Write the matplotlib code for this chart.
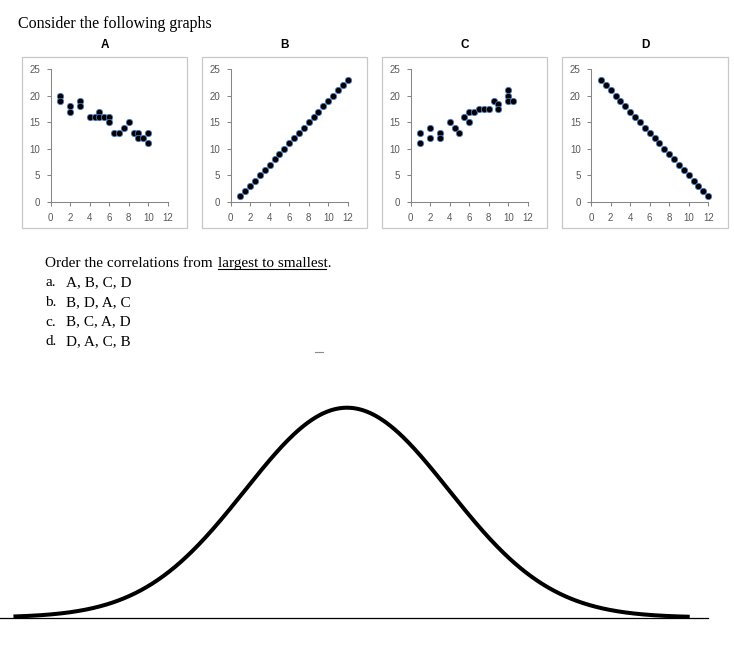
import numpy as np
import matplotlib
matplotlib.use("Agg")
import matplotlib.pyplot as plt
from matplotlib.patches import Rectangle
from matplotlib.lines import Line2D

# scatter data
a_x = [1, 1, 2, 2, 3, 3, 4, 4.5, 5, 5, 5.5, 6, 6, 6.5, 7, 7.5, 8, 8.5, 9, 9, 9.5, 10, 10]
a_y = [20, 19, 18, 17, 19, 18, 16, 16, 17, 16, 16, 16, 15, 13, 13, 14, 15, 13, 13, 12, 12, 13, 11]

b_x = [1, 1.5, 2, 2.5, 3, 3.5, 4, 4.5, 5, 5.5, 6, 6.5, 7, 7.5, 8, 8.5, 9, 9.5, 10, 10.5, 11, 11.5, 12]
b_y = [1, 2, 3, 4, 5, 6, 7, 8, 9, 10, 11, 12, 13, 14, 15, 16, 17, 18, 19, 20, 21, 22, 23]

c_x = [1, 1, 2, 2, 3, 3, 4, 4.5, 5, 5.5, 6, 6, 6.5, 7, 7.5, 8, 8.5, 9, 9, 10, 10, 10, 10.5]
c_y = [13, 11, 14, 12, 13, 12, 15, 14, 13, 16, 17, 15, 17, 17.5, 17.5, 17.5, 19, 18.5, 17.5, 21, 20, 19, 19]

d_x = [1, 1.5, 2, 2.5, 3, 3.5, 4, 4.5, 5, 5.5, 6, 6.5, 7, 7.5, 8, 8.5, 9, 9.5, 10, 10.5, 11, 11.5, 12]
d_y = [23, 22, 21, 20, 19, 18, 17, 16, 15, 14, 13, 12, 11, 10, 9, 8, 7, 6, 5, 4, 3, 2, 1]

panels = [("A", a_x, a_y), ("B", b_x, b_y), ("C", c_x, c_y), ("D", d_x, d_y)]
x_ticks = [0, 2, 4, 6, 8, 10, 12]
y_ticks = [0, 5, 10, 15, 20, 25]

question = "Order the correlations from "
question_ul = "largest to smallest."
option_keys = ["a.", "b.", "c.", "d."]
option_text = ["A, B, C, D", "B, D, A, C", "B, C, A, D", "D, A, C, B"]

# normal curve below the question
mu, sigma = 0.0, 1.0
z_start, z_end = -3.27, 3.36
base_start, base_end = -3.40, 3.54

W, H = 734, 646


def fx(px):
    return px / W


def fy(py):
    return 1 - py / H


fig = plt.figure(figsize=(W / 100, H / 100), dpi=100)
fig.patch.set_facecolor("white")

serif = "Liberation Serif"
sans = "Liberation Sans"

fig.text(fx(18), fy(28), "Consider the following graphs", fontsize=11.5,
         family=serif, va="baseline")

box_left = [22, 202, 382, 562]
box_right = [187, 367, 547, 728]
axis_left = [50.7, 230.7, 410.7, 591.2]
ax_w = 117.0
ax_top, ax_bot = 69.3, 201.7

for i, (name, xs, ys) in enumerate(panels):
    # light grey frame around the chart
    fig.add_artist(Rectangle((fx(box_left[i]), fy(228)),
                             fx(box_right[i] - box_left[i]), (228 - 57) / H,
                             transform=fig.transFigure, fill=False,
                             edgecolor="#c8c8c8", lw=0.9))
    fig.text(fx((box_left[i] + box_right[i]) / 2), fy(47.5), name,
             fontsize=8.5, fontweight="bold", family=sans,
             ha="center", va="baseline")

    ax = fig.add_axes([fx(axis_left[i]), fy(ax_bot), ax_w / W, (ax_bot - ax_top) / H])
    ax.set_facecolor("none")
    ax.plot(xs, ys, "o", color="black", ms=4.6, mec="#4a7cc8", mew=0.55,
            clip_on=False)
    ax.set_xlim(0, 12)
    ax.set_ylim(0, 25)
    ax.set_xticks(x_ticks)
    ax.set_yticks(y_ticks)
    for s in ["top", "right"]:
        ax.spines[s].set_visible(False)
    for s in ["left", "bottom"]:
        ax.spines[s].set_color("#868686")
        ax.spines[s].set_linewidth(0.75)
    ax.tick_params(length=3, width=0.75, color="#868686", labelsize=7,
                   labelcolor="#595959")
    ax.tick_params(axis="y", pad=4.5)
    ax.tick_params(axis="x", pad=5)
    for lab in ax.get_xticklabels() + ax.get_yticklabels():
        lab.set_family(sans)

# question and answer choices
fig.text(fx(45), fy(267), question, fontsize=11, family=serif, va="baseline")
fig.text(fx(218), fy(267), question_ul, fontsize=11, family=serif, va="baseline")
fig.add_artist(Line2D([fx(218), fx(326)], [fy(269.5), fy(269.5)],
                      color="black", lw=0.8))
for i in range(len(option_keys)):
    yb = 286.5 + 19.5 * i
    fig.text(fx(45), fy(yb), option_keys[i], fontsize=11, family=serif, va="baseline")
    fig.text(fx(66), fy(yb), option_text[i], fontsize=11, family=serif, va="baseline")

# small stray mark
fig.add_artist(Line2D([fx(315), fx(323)], [fy(352), fy(352)], color="#8a8a8a", lw=0.8))

# bell curve
peak_x, sd_px = 347.0, 102.0
bax = fig.add_axes([0, fy(617.5), 1, (617.5 - 407.7) / H])
bax.axis("off")
bax.set_xlim(-peak_x / sd_px, (W - peak_x) / sd_px)
peak = 1 / (sigma * np.sqrt(2 * np.pi))
bax.set_ylim(0, peak)
z = np.linspace(z_start, z_end, 600)
pdf = np.exp(-0.5 * ((z - mu) / sigma) ** 2) / (sigma * np.sqrt(2 * np.pi))
bax.plot(z, pdf, color="black", lw=2.9, clip_on=False, solid_capstyle="butt")
bax.plot([base_start, base_end], [0, 0], color="black", lw=0.9, clip_on=False)

fig.savefig("out.png", dpi=100, facecolor="white")
